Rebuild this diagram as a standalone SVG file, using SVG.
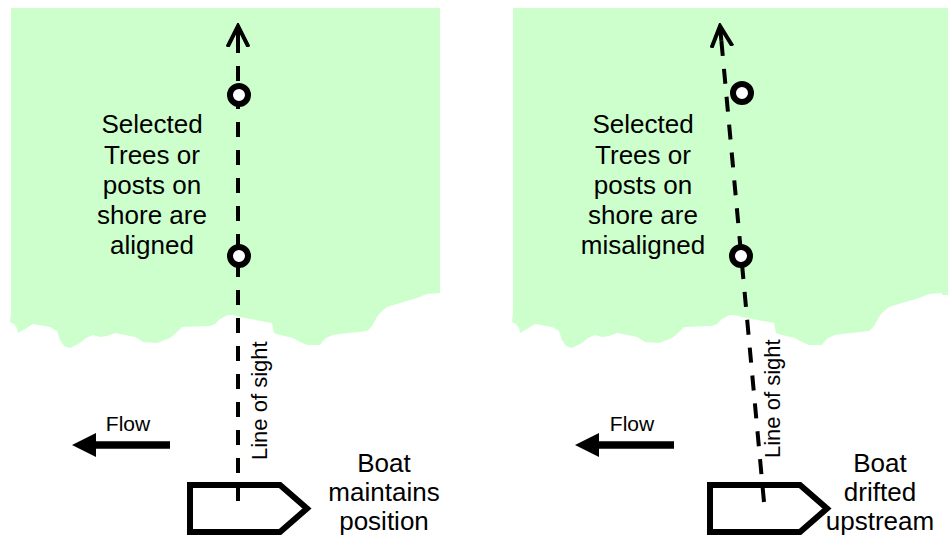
<svg xmlns="http://www.w3.org/2000/svg" width="948" height="537" viewBox="0 0 948 537">
<style>
.shore{fill:#CCFFCC;stroke:none}
.boat{fill:#FFFFFF;stroke:#000;stroke-width:6;stroke-linejoin:miter}
.sight{fill:none;stroke:#000;stroke-width:4;stroke-dasharray:15 13}
.tree{fill:#FFFFFF;stroke:#000;stroke-width:6}
.flow{fill:none;stroke:#000;stroke-width:7.5}
.head{fill:#000;stroke:none}
text{font-family:"Liberation Sans",Arial,sans-serif;fill:#000}
.lbl{font-size:26px;text-anchor:middle}
.small{font-size:21px}
.los{font-size:22px}
</style>
<defs>
<marker id="openArrow" viewBox="0 0 24 24" markerWidth="24" markerHeight="24" refX="21" refY="12" orient="auto" markerUnits="userSpaceOnUse">
<path d="M0,1.5 L21,12 L0,22.5 M21,12 L6,12" fill="none" stroke="#000" stroke-width="4" stroke-dasharray="none"/>
</marker>
<path id="shoreShape" d="M11,8 H440 V293 L427,294 L417,298 L400,303 L387,307 L380,313 L377,317 L372,326 L367,331 L340,334 L333,335 L326,338 L323,341 L320,345 L307,345 L300,342 L293,338 L280,335 L274,333 L273,328 L272,323 L240,317 L233,315 L228,315 L220,319 L215,324 L210,326 L182,327 L175,334 L170,338 L157,343 L143,342 L137,338 L135,337 L115,333 L107,336 L100,337 L93,335 L86,338 L80,343 L70,348 L64,346 L60,340 L57,331 L50,327 L33,324 L25,329 L18,333 L17,328 L14,324 L10,322 L11,312 Z"/>
</defs>
<rect width="948" height="537" fill="#FFFFFF"/>
<g id="shores">
<use href="#shoreShape" class="shore"/>
<use href="#shoreShape" class="shore" transform="translate(502,0)"/>
<rect x="942" y="8" width="6" height="287" class="shore"/>
</g>
<g id="boat-left"><polygon class="boat" points="190,485 280,485 307,508.5 280,532 190,532"/></g>
<g id="boat-right"><polygon class="boat" points="710,485 800,485 827,508.5 800,532 710,532"/></g>
<g id="connectors">
<line class="sight" x1="238" y1="501" x2="238" y2="26" marker-end="url(#openArrow)"/>
<line class="sight" x1="764" y1="502" x2="720" y2="26" marker-end="url(#openArrow)"/>
<g id="flow-left"><line class="flow" x1="170" y1="445" x2="92" y2="445"/><polygon class="head" points="72,445 96,433 96,457"/></g>
<g id="flow-right"><line class="flow" x1="674" y1="445" x2="595" y2="445"/><polygon class="head" points="575,445 599,433 599,457"/></g>
</g>
<g id="tree-left-far"><circle class="tree" cx="239" cy="95" r="9"/></g>
<g id="tree-left-near"><circle class="tree" cx="239" cy="256" r="9"/></g>
<g id="tree-right-far"><circle class="tree" cx="742" cy="93" r="9"/></g>
<g id="tree-right-near"><circle class="tree" cx="741" cy="256" r="9"/></g>
<g id="label-left">
<text class="lbl" x="152" y="133">Selected</text>
<text class="lbl" x="152" y="164">Trees or</text>
<text class="lbl" x="152" y="194">posts on</text>
<text class="lbl" x="152" y="224">shore are</text>
<text class="lbl" x="152" y="254">aligned</text>
</g>
<g id="label-right">
<text class="lbl" x="643" y="133">Selected</text>
<text class="lbl" x="643" y="164">Trees or</text>
<text class="lbl" x="643" y="194">posts on</text>
<text class="lbl" x="643" y="224">shore are</text>
<text class="lbl" x="643" y="254">misaligned</text>
</g>
<text class="los" transform="translate(267,460) rotate(-90)">Line of sight</text>
<text class="los" transform="translate(780,458) rotate(-90)">Line of sight</text>
<text class="small" x="128" y="431" text-anchor="middle">Flow</text>
<text class="small" x="632" y="431" text-anchor="middle">Flow</text>
<g id="boat-left-label">
<text class="lbl" x="384" y="472">Boat</text>
<text class="lbl" x="384" y="501">maintains</text>
<text class="lbl" x="384" y="530">position</text>
</g>
<g id="boat-right-label">
<text class="lbl" x="880" y="472">Boat</text>
<text class="lbl" x="880" y="501">drifted</text>
<text class="lbl" x="880" y="530">upstream</text>
</g>
</svg>
